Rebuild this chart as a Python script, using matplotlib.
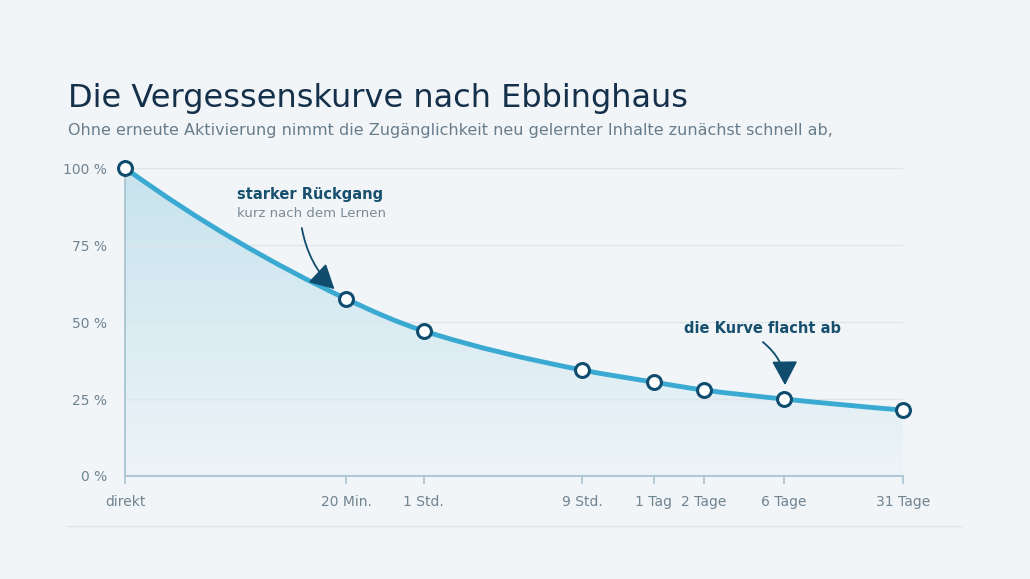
import numpy as np
import matplotlib
matplotlib.use("Agg")
import matplotlib.pyplot as plt
from matplotlib.path import Path
from matplotlib.patches import PathPatch
from matplotlib.colors import LinearSegmentedColormap

# data: time since learning (minutes) and retained share (%)
minutes = [0, 20, 60, 540, 1440, 2880, 8640, 44640]
retention = [100, 57.5, 47.1, 34.4, 30.5, 27.9, 25.0, 21.4]
tick_labels = ["direkt", "20 Min.", "1 Std.", "9 Std.", "1 Tag", "2 Tage", "6 Tage", "31 Tage"]
y_ticks = [0, 25, 50, 75, 100]

BG = "#f2f5f7"
LINE = "#3aaad2"
NAVY = "#0f4c6e"
GRID = "#dfe6eb"
AXIS = "#a9c4d2"
TICK_TXT = "#6f8391"


def fwd(x):
    return np.log10(1 + np.asarray(x, dtype=float))


def inv(u):
    return 10 ** np.asarray(u, dtype=float) - 1


def smooth_path(xs, ys):
    # monotone cubic (pchip) through the points, as bezier segments in scale space
    u = fwd(xs)
    y = np.asarray(ys, dtype=float)
    h = np.diff(u)
    d = np.diff(y) / h
    m = np.zeros_like(y)
    for k in range(1, len(y) - 1):
        w1 = 2 * h[k] + h[k - 1]
        w2 = h[k] + 2 * h[k - 1]
        m[k] = (w1 + w2) / (w1 / d[k - 1] + w2 / d[k])
    m[0] = ((2 * h[0] + h[1]) * d[0] - h[0] * d[1]) / (h[0] + h[1])
    m[-1] = ((2 * h[-1] + h[-2]) * d[-1] - h[-1] * d[-2]) / (h[-1] + h[-2])
    verts = [(u[0], y[0])]
    codes = [Path.MOVETO]
    for k in range(len(h)):
        verts += [(u[k] + h[k] / 3, y[k] + m[k] * h[k] / 3),
                  (u[k + 1] - h[k] / 3, y[k + 1] - m[k + 1] * h[k] / 3),
                  (u[k + 1], y[k + 1])]
        codes += [Path.CURVE4] * 3
    verts = [(float(inv(a)), b) for a, b in verts]
    return verts, codes


fig = plt.figure(figsize=(10.3, 5.79), dpi=100, facecolor=BG)
ax = fig.add_axes([0.1214, 0.1779, 0.7553, 0.5319])
ax.set_facecolor(BG)
ax.set_xscale("function", functions=(fwd, inv))
ax.set_xlim(0, minutes[-1])
ax.set_ylim(0, 100)

verts, codes = smooth_path(minutes, retention)

# gradient fill under the curve
fill_verts = verts + [(minutes[-1], 0), (minutes[0], 0), (minutes[0], retention[0])]
fill_codes = codes + [Path.LINETO, Path.LINETO, Path.CLOSEPOLY]
clip = PathPatch(Path(fill_verts, fill_codes), facecolor="none", edgecolor="none",
                 transform=ax.transData)
ax.add_patch(clip)
cmap = LinearSegmentedColormap.from_list("fill", ["#edf4f7", "#c7e3ee"])
grad = np.linspace(0, 1, 256).reshape(-1, 1)
img = ax.imshow(grad, cmap=cmap, aspect="auto", extent=(0, 1, 0, 1),
                origin="lower", transform=ax.transAxes, zorder=1)
img.set_clip_path(clip)

for yt in y_ticks[1:]:
    ax.axhline(yt, color=GRID, lw=1, zorder=2)

ax.add_patch(PathPatch(Path(verts, codes), facecolor="none", edgecolor=LINE,
                       lw=3.5, capstyle="round", zorder=3))
ax.plot(minutes, retention, "o", ms=10, mfc="white", mec=NAVY, mew=2.2,
        zorder=4, clip_on=False)

for s in ["top", "right"]:
    ax.spines[s].set_visible(False)
for s in ["left", "bottom"]:
    ax.spines[s].set_color(AXIS)
    ax.spines[s].set_linewidth(1.3)

ax.set_xticks(minutes)
ax.set_xticklabels(tick_labels)
ax.set_yticks(y_ticks)
ax.set_yticklabels([f"{v} %" for v in y_ticks])
ax.minorticks_off()
ax.tick_params(axis="x", length=5.5, width=1.2, color=AXIS, labelcolor=TICK_TXT,
               labelsize=10, pad=8)
ax.tick_params(axis="y", length=0, labelcolor=TICK_TXT, labelsize=10, pad=13)

fig.text(0.066, 0.815, "Die Vergessenskurve nach Ebbinghaus", fontsize=23,
         color="#15304a")
fig.text(0.066, 0.766, "Ohne erneute Aktivierung nimmt die Zugänglichkeit neu gelernter "
         "Inhalte zunächst schnell ab,", fontsize=11.5, color="#687d8c")

# annotations
fig.text(237 / 1030, 1 - 199 / 579, "starker Rückgang", fontsize=10.5,
         fontweight="bold", color="#17506f")
fig.text(237 / 1030, 1 - 217 / 579, "kurz nach dem Lernen", fontsize=9.5,
         color="#7a8b97")
ax.annotate("", xy=(minutes[1], retention[1]), xytext=(-32, 51),
            textcoords="offset points",
            arrowprops=dict(arrowstyle="-|>,head_length=0.75,head_width=0.4",
                            color=NAVY, lw=1.3, shrinkA=0, shrinkB=11,
                            connectionstyle="arc3,rad=0.2", mutation_scale=20),
            zorder=5)
fig.text(763 / 1030, 1 - 333 / 579, "die Kurve flacht ab", fontsize=10.5,
         fontweight="bold", color="#17506f", ha="center")
ax.annotate("", xy=(minutes[6], retention[6]), xytext=(-15, 41),
            textcoords="offset points",
            arrowprops=dict(arrowstyle="-|>,head_length=0.75,head_width=0.4",
                            color=NAVY, lw=1.3, shrinkA=0, shrinkB=10,
                            connectionstyle="arc3,rad=-0.3", mutation_scale=20),
            zorder=5)

fig.add_artist(plt.Line2D([0.066, 0.934], [0.0915, 0.0915], color="#dde4e9", lw=1))

fig.savefig("out.png", dpi=100, facecolor=BG)
